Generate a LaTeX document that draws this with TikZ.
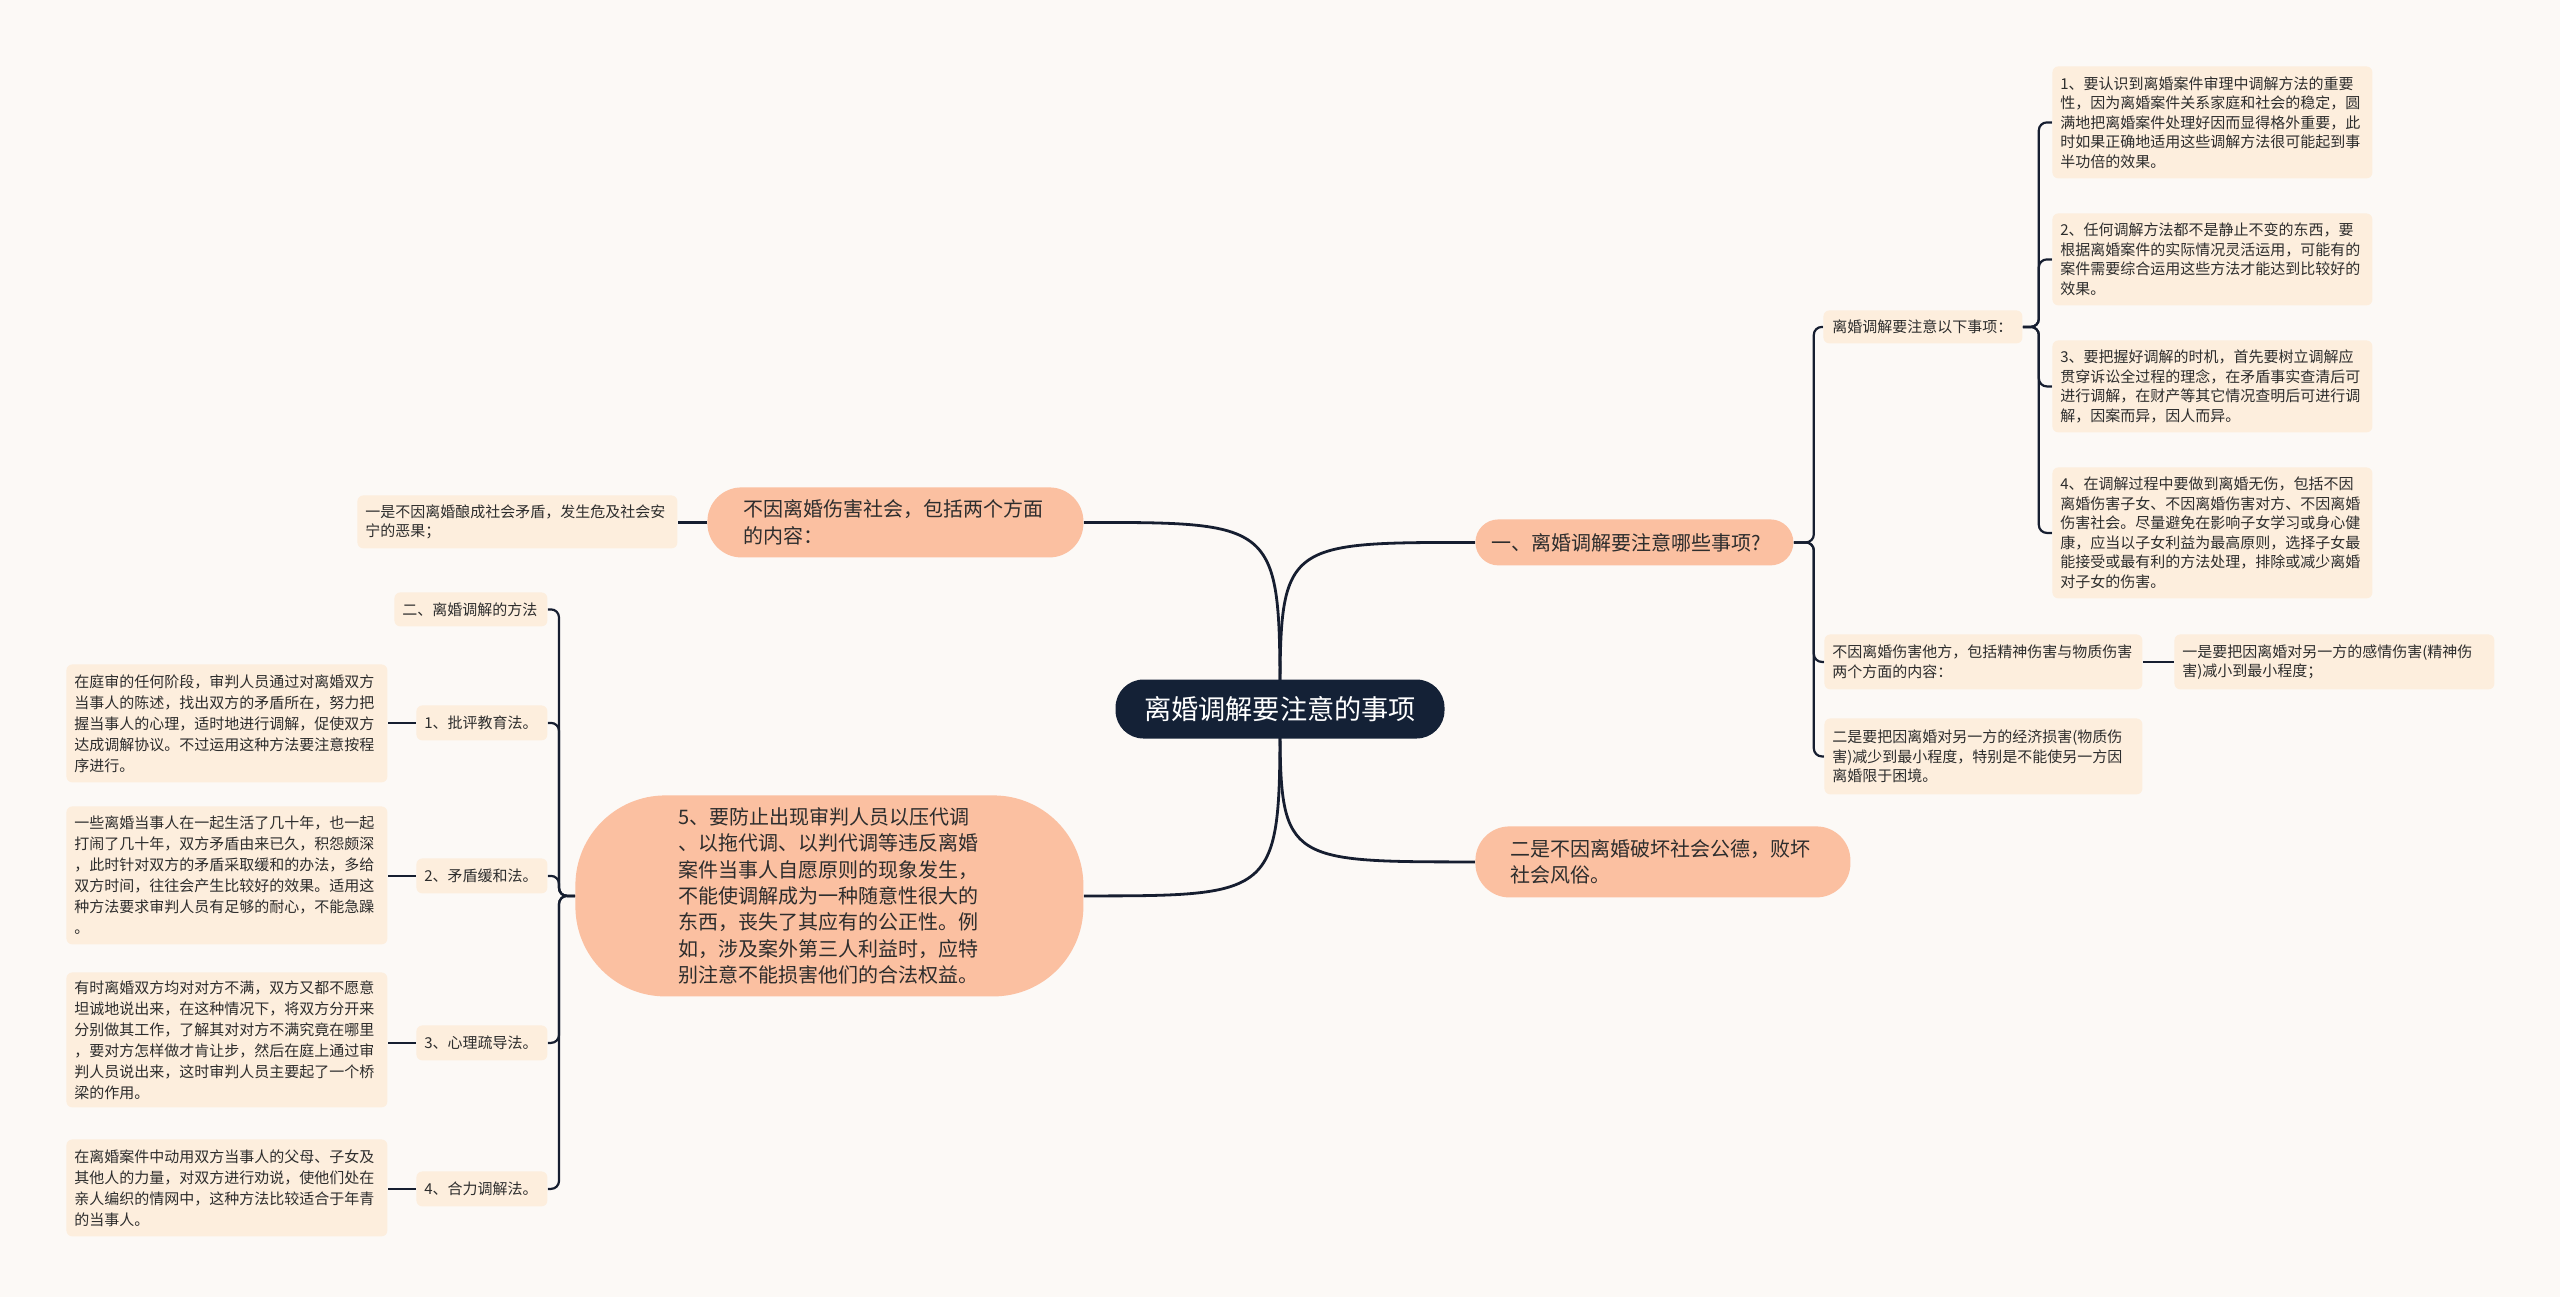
\documentclass[tikz,border=0pt]{standalone}
\usepackage{fontspec}
\setmainfont{Noto Sans CJK SC}
\usetikzlibrary{backgrounds, calc}
\definecolor{bgcol}{RGB}{252,249,246}
\definecolor{rootcol}{RGB}{20,33,54}
\definecolor{topiccol}{RGB}{251,192,161}
\definecolor{leafcol}{RGB}{253,238,221}
\definecolor{linecol}{RGB}{22,30,48}
\definecolor{textcol}{RGB}{45,45,45}

\tikzset{
  link/.style={linecol, line width=1.4pt},
  sublink/.style={linecol, line width=1.1pt, rounded corners=4pt},
  rootnode/.style={fill=rootcol, text=white, rounded corners=14pt, inner sep=0pt,
    minimum width=164.5pt, minimum height=29.5pt, font=\fontsize{13.6}{16}\selectfont},
  topic/.style={fill=topiccol, text=textcol, rounded corners=#1, anchor=north west,
    align=left, inner ysep=0pt, font=\fontsize{10}{13.2}\selectfont},
  leaf/.style={fill=leafcol, text=textcol, rounded corners=3pt, anchor=north west,
    align=left, inner xsep=4pt, inner ysep=0pt, font=\fontsize{7.5}{9.75}\selectfont},
  leafwide/.style={leaf, font=\fontsize{7.5}{10.5}\selectfont},
}

\begin{document}
\begin{tikzpicture}[x=0.5pt, y=-0.5pt]
  \useasboundingbox (0,0) rectangle (2560,1297);
  \begin{scope}[on background layer]
    \fill[bgcol] (0,0) rectangle (2560,1297);
  \end{scope}

  % centre
  \node[rootnode] (root) at (1280,709) {离婚调解要注意的事项};

  % main topics
  \node[topic=11.5pt, inner xsep=8pt, text width=143pt, minimum height=23pt] (r1) at (1475,519)
    {一、离婚调解要注意哪些事项?};
  \node[topic=17pt, inner xsep=17.5pt, text width=152.5pt, minimum height=35.5pt] (r2) at (1475,826)
    {二是不因离婚破坏社会公德，败坏\\社会风俗。};
  \node[topic=17pt, inner xsep=18pt, text width=152pt, minimum height=35pt] (l1) at (707,487)
    {不因离婚伤害社会，包括两个方面\\的内容：};
  \node[topic=45pt, inner xsep=51.5pt, text width=151pt, minimum height=100.5pt] (l2) at (575,795)
    {5、要防止出现审判人员以压代调\\、以拖代调、以判代调等违反离婚\\案件当事人自愿原则的现象发生，\\不能使调解成为一种随意性很大的\\东西，丧失了其应有的公正性。例\\如，涉及案外第三人利益时，应特\\别注意不能损害他们的合法权益。};

  % right side
  \node[leaf, inner xsep=4.5pt, text width=90.5pt, minimum height=16.5pt] (a0) at (1823,310)
    {离婚调解要注意以下事项：};
  \node[leaf, text width=152pt, minimum height=56pt] (a1) at (2052,66)
    {1、要认识到离婚案件审理中调解方法的重要\\性，因为离婚案件关系家庭和社会的稳定，圆\\满地把离婚案件处理好因而显得格外重要，此\\时如果正确地适用这些调解方法很可能起到事\\半功倍的效果。};
  \node[leaf, text width=152pt, minimum height=46pt] (a2) at (2052,213)
    {2、任何调解方法都不是静止不变的东西，要\\根据离婚案件的实际情况灵活运用，可能有的\\案件需要综合运用这些方法才能达到比较好的\\效果。};
  \node[leaf, text width=152pt, minimum height=46pt] (a3) at (2052,340)
    {3、要把握好调解的时机，首先要树立调解应\\贯穿诉讼全过程的理念，在矛盾事实查清后可\\进行调解，在财产等其它情况查明后可进行调\\解，因案而异，因人而异。};
  \node[leaf, text width=152pt, minimum height=65.5pt] (a4) at (2052,467)
    {4、在调解过程中要做到离婚无伤，包括不因\\离婚伤害子女、不因离婚伤害对方、不因离婚\\伤害社会。尽量避免在影响子女学习或身心健\\康，应当以子女利益为最高原则，选择子女最\\能接受或最有利的方法处理，排除或减少离婚\\对子女的伤害。};
  \node[leaf, text width=151pt, minimum height=27.5pt] (b) at (1824,634)
    {不因离婚伤害他方，包括精神伤害与物质伤害\\两个方面的内容：};
  \node[leaf, text width=152pt, minimum height=27.5pt] (b1) at (2174,634)
    {一是要把因离婚对另一方的感情伤害(精神伤\\害)减小到最小程度；};
  \node[leaf, text width=151pt, minimum height=38pt] (c) at (1824,718)
    {二是要把因离婚对另一方的经济损害(物质伤\\害)减少到最小程度，特别是不能使另一方因\\离婚限于困境。};

  % left side
  \node[leaf, text width=152pt, minimum height=26.5pt] (lA) at (357,495)
    {一是不因离婚酿成社会矛盾，发生危及社会安\\宁的恶果；};
  \node[leaf, text width=68.5pt, minimum height=17pt] (m0) at (394,592) {二、离婚调解的方法};
  \node[leaf, text width=57.5pt, minimum height=17.5pt] (m1) at (416,705) {1、批评教育法。};
  \node[leaf, text width=57.5pt, minimum height=17.5pt] (m2) at (416,858) {2、矛盾缓和法。};
  \node[leaf, text width=57.5pt, minimum height=17.5pt] (m3) at (416,1025) {3、心理疏导法。};
  \node[leaf, text width=57.5pt, minimum height=17.5pt] (m4) at (416,1171) {4、合力调解法。};
  \node[leafwide, text width=152.5pt, minimum height=59pt] (t1) at (66,664)
    {在庭审的任何阶段，审判人员通过对离婚双方\\当事人的陈述，找出双方的矛盾所在，努力把\\握当事人的心理，适时地进行调解，促使双方\\达成调解协议。不过运用这种方法要注意按程\\序进行。};
  \node[leafwide, text width=152.5pt, minimum height=69pt] (t2) at (66,806)
    {一些离婚当事人在一起生活了几十年，也一起\\打闹了几十年，双方矛盾由来已久，积怨颇深\\，此时针对双方的矛盾采取缓和的办法，多给\\双方时间，往往会产生比较好的效果。适用这\\种方法要求审判人员有足够的耐心，不能急躁\\。};
  \node[leafwide, text width=152.5pt, minimum height=67.5pt] (t3) at (66,972)
    {有时离婚双方均对对方不满，双方又都不愿意\\坦诚地说出来，在这种情况下，将双方分开来\\分别做其工作，了解其对对方不满究竟在哪里\\，要对方怎样做才肯让步，然后在庭上通过审\\判人员说出来，这时审判人员主要起了一个桥\\梁的作用。};
  \node[leafwide, text width=152.5pt, minimum height=48.5pt] (t4) at (66,1139)
    {在离婚案件中动用双方当事人的父母、子女及\\其他人的力量，对双方进行劝说，使他们处在\\亲人编织的情网中，这种方法比较适合于年青\\的当事人。};

  % connectors
  \begin{scope}[on background layer]
    \draw[link] (root.center) .. controls (root.center |- r1.west) .. (r1.west);
    \draw[link] (root.center) .. controls (root.center |- r2.west) .. (r2.west);
    \draw[link] (root.center) .. controls (root.center |- l1.east) .. (l1.east);
    \draw[link] (root.center) .. controls (root.center |- l2.east) .. (l2.east);
    \foreach \n in {a0,b,c}
      \draw[sublink] (r1.east) -- ++(10pt,0) |- (\n.west);
    \foreach \n in {a1,a2,a3,a4}
      \draw[sublink] (a0.east) -- ++(8pt,0) |- (\n.west);
    \foreach \n in {m0,m1,m2,m3,m4}
      \draw[sublink] (l2.west) -- ++(-8pt,0) |- (\n.east);
    \draw[sublink] (b.east) -- (b.east -| b1.west);
    \draw[sublink] (l1.west) -- (l1.west -| lA.east);
    \foreach \i in {1,2,3,4}
      \draw[sublink] (m\i.west) -- (m\i.west -| t\i.east);
  \end{scope}
\end{tikzpicture}
\end{document}
